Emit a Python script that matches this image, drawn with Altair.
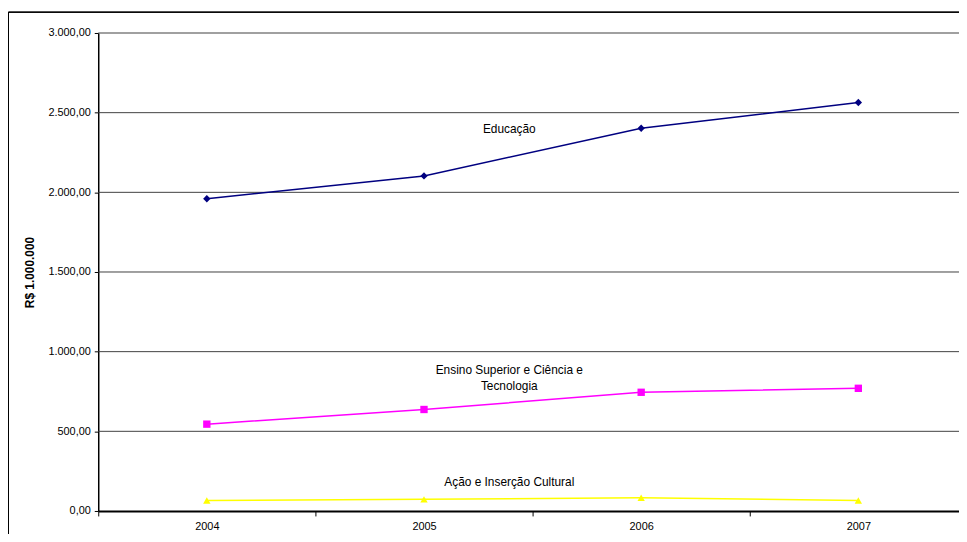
import altair as alt
import pandas as pd

years = ["2004", "2005", "2006", "2007"]
educacao = [1960, 2103, 2402, 2564]
ensino = [545, 637, 745, 770]
acao = [66, 73, 83, 66]

series_names = ["Educação", "Ensino Superior e Ciência e Tecnologia", "Ação e Inserção Cultural"]
series_colors = ["#000080", "#FF00FF", "#FFFF00"]
series_shapes = ["diamond", "square", "triangle-up"]

label_lines = [["Educação"], ["Ensino Superior e Ciência e", "Tecnologia"], ["Ação e Inserção Cultural"]]
label_values = [2396, 886, 180]
label_anchor_year = "2005"

y_ticks = [0, 500, 1000, 1500, 2000, 2500, 3000]

rows = []
for name, vals in zip(series_names, [educacao, ensino, acao]):
    for yr, v in zip(years, vals):
        rows.append({"ano": yr, "valor": v, "serie": name})
df = pd.DataFrame(rows)

lab_df = pd.DataFrame({"ano": [label_anchor_year] * 3, "valor": label_values, "txt": label_lines})
grid_df = pd.DataFrame({"valor": y_ticks[1:]})

FONT = "Arial, Liberation Sans"
H = 482

x_enc = alt.X("ano:N", sort=years,
              scale=alt.Scale(domain=years, range=[0, 876], paddingInner=0, paddingOuter=0),
              axis=alt.Axis(title=None, labelAngle=0, tickBand="extent", domainColor="#000",
                            domainWidth=2, tickColor="#000", tickSize=5, labelFontSize=11,
                            labelColor="#000", labelFont=FONT, labelPadding=5, grid=False))
y_enc = alt.Y("valor:Q", scale=alt.Scale(domain=[0, 3000], nice=False),
              axis=alt.Axis(values=y_ticks, title="R$ 1.000.000",
                            labelExpr="replace(replace(replace(format(datum.value, ',.2f'), ',', '#'), '.', ','), '#', '.')",
                            labelFontSize=11, labelColor="#000", labelFont=FONT, labelPadding=4,
                            tickSize=4, tickColor="#000", domainColor="#000", domainWidth=1.5,
                            grid=False,
                            titleFont=FONT, titleFontSize=12, titleFontWeight="bold", titleColor="#000",
                            titleAngle=-90, titleX=-69, titleY=H / 2, titleAlign="center",
                            titleBaseline="middle"))

color = alt.Color("serie:N", scale=alt.Scale(domain=series_names, range=series_colors), legend=None)
shape = alt.Shape("serie:N", scale=alt.Scale(domain=series_names, range=series_shapes), legend=None)
width_enc = alt.StrokeWidth("serie:N", scale=alt.Scale(domain=series_names, range=[1.5, 1.5, 2.2]), legend=None)

grid = alt.Chart(grid_df).mark_rule(color="#404040", strokeWidth=1).encode(
    y=alt.Y("valor:Q"), x=alt.value(0), x2=alt.value(876))
lines = alt.Chart(df).mark_line().encode(x=x_enc, y=y_enc, color=color, strokeWidth=width_enc, detail="serie:N")
points = alt.Chart(df).mark_point(filled=True, opacity=1, size=55).encode(
    x=alt.X("ano:N", sort=years), y="valor:Q", color=color, shape=shape)

labels = alt.Chart(lab_df).mark_text(font=FONT, fontSize=12, color="#000", dx=86,
                                     align="center", baseline="middle", lineHeight=16).encode(
    x=alt.X("ano:N", sort=years), y="valor:Q", text="txt")

frame_left = alt.Chart(lab_df).mark_rule(color="#000", strokeWidth=1).encode(
    x=alt.value(-90.5), y=alt.value(-21), y2=alt.value(520))
frame_top = alt.Chart(lab_df).mark_rule(color="#000", strokeWidth=1).encode(
    x=alt.value(-90.5), x2=alt.value(900), y=alt.value(-21))

chart = alt.layer(grid, lines, points, labels, frame_left, frame_top).properties(
    width=868, height=H,
    autosize=alt.AutoSizeParams(type="none"),
    padding={"left": 91, "top": 23, "right": 0, "bottom": 21},
    background="white",
).configure_view(stroke=None)

chart.save("out.html", embed_options={"renderer": "svg", "actions": False})
